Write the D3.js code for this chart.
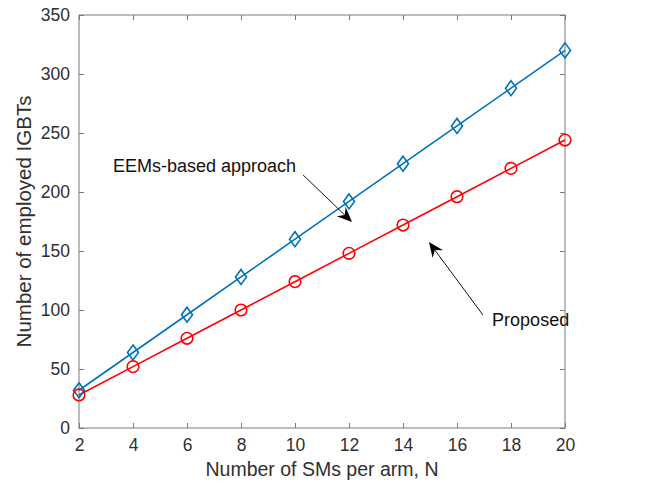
<!DOCTYPE html>
<html><head><meta charset="utf-8">
<script src="https://cdn.jsdelivr.net/npm/d3@7"></script>
<style>body{margin:0;background:#fff;}svg{display:block;font-family:"Liberation Sans",Arial,sans-serif;}</style>
</head><body>
<svg id="c" width="654" height="488"></svg>
<script>
const N = [2,4,6,8,10,12,14,16,18,20];
const eems = [32,64,96,128,160,192,224,256,288,320];
const proposed = [28,52,76,100,124,148,172,196,220,244];
const xTicks = [2,4,6,8,10,12,14,16,18,20];
const yTicks = [0,50,100,150,200,250,300,350];
const xLabel = "Number of SMs per arm, N";
const yLabel = "Number of employed IGBTs";
const annotations = [
  {text:"EEMs-based approach", tx:3.26, ty:217, x1:10.30, y1:214.4, x2:12.11, y2:174.6},
  {text:"Proposed", tx:17.3, ty:86.4, x1:16.96, y1:95.8, x2:14.96, y2:157.6}
];

const svg = d3.select("#c");
const L=79, R=565, T=15, B=428;
const x = d3.scaleLinear().domain([2,20]).range([L,R]);
const y = d3.scaleLinear().domain([0,350]).range([B,T]);
const axisCol = "#7a7a7a", textCol = "#303030";
const tl = 5;

const g = svg.append("g");
g.append("rect").attr("x",L).attr("y",T).attr("width",R-L).attr("height",B-T)
 .attr("fill","none").attr("stroke",axisCol).attr("stroke-width",1);

const xa = g.append("g").attr("transform",`translate(0,${B})`)
  .call(d3.axisBottom(x).tickValues(xTicks).tickSizeInner(-tl).tickSizeOuter(0).tickPadding(11));
const xt = g.append("g").attr("transform",`translate(0,${T})`)
  .call(d3.axisTop(x).tickValues(xTicks).tickSizeInner(-tl).tickSizeOuter(0).tickFormat(""));
const ya = g.append("g").attr("transform",`translate(${L},0)`)
  .call(d3.axisLeft(y).tickValues(yTicks).tickSizeInner(-tl).tickSizeOuter(0).tickPadding(9));
const yr = g.append("g").attr("transform",`translate(${R},0)`)
  .call(d3.axisRight(y).tickValues(yTicks).tickSizeInner(-tl).tickSizeOuter(0).tickFormat(""));
[xa,xt,ya,yr].forEach(a=>{
  a.select(".domain").remove();
  a.selectAll(".tick line").attr("stroke",axisCol);
  a.selectAll(".tick text").attr("fill",textCol).attr("font-size",17.5).attr("font-family","Liberation Sans, Arial, sans-serif");
});

svg.append("text").attr("x",(L+R)/2).attr("y",476).attr("text-anchor","middle")
  .attr("font-size",19.5).attr("fill",textCol).text(xLabel);
svg.append("text").attr("transform",`translate(31,${(T+B)/2}) rotate(-90)`).attr("text-anchor","middle")
  .attr("font-size",20.5).attr("fill",textCol).text(yLabel);

const line = d3.line().x((d,i)=>x(N[i])).y(d=>y(d));
const blue = "#0072BD", red = "#FF0000";
g.append("path").datum(eems).attr("d",line).attr("fill","none").attr("stroke",blue).attr("stroke-width",1.6);
g.append("path").datum(proposed).attr("d",line).attr("fill","none").attr("stroke",red).attr("stroke-width",1.6);

g.selectAll(".dia").data(eems).enter().append("path")
  .attr("transform",(d,i)=>`translate(${x(N[i])},${y(d)})`)
  .attr("d","M0,-7.5L5.5,0L0,7.5L-5.5,0Z").attr("fill","none").attr("stroke",blue).attr("stroke-width",1.6);
g.selectAll(".cir").data(proposed).enter().append("circle")
  .attr("cx",(d,i)=>x(N[i])).attr("cy",d=>y(d)).attr("r",5.8)
  .attr("fill","none").attr("stroke",red).attr("stroke-width",1.6);

annotations.forEach(a=>{
  svg.append("text").attr("x",x(a.tx)).attr("y",y(a.ty)).attr("font-size",18).attr("fill","#111").text(a.text);
  const X1=x(a.x1),Y1=y(a.y1),X2=x(a.x2),Y2=y(a.y2);
  const ang = Math.atan2(Y2-Y1,X2-X1);
  const bx = X2-10*Math.cos(ang), by = Y2-10*Math.sin(ang);
  svg.append("line").attr("x1",X1).attr("y1",Y1).attr("x2",bx).attr("y2",by).attr("stroke","#111").attr("stroke-width",1);
  svg.append("path").attr("transform",`translate(${X2},${Y2}) rotate(${ang*180/Math.PI})`)
    .attr("d","M0,0L-15,-6.5L-10,0L-15,6.5Z").attr("fill","#000");
});
</script>
</body></html>
